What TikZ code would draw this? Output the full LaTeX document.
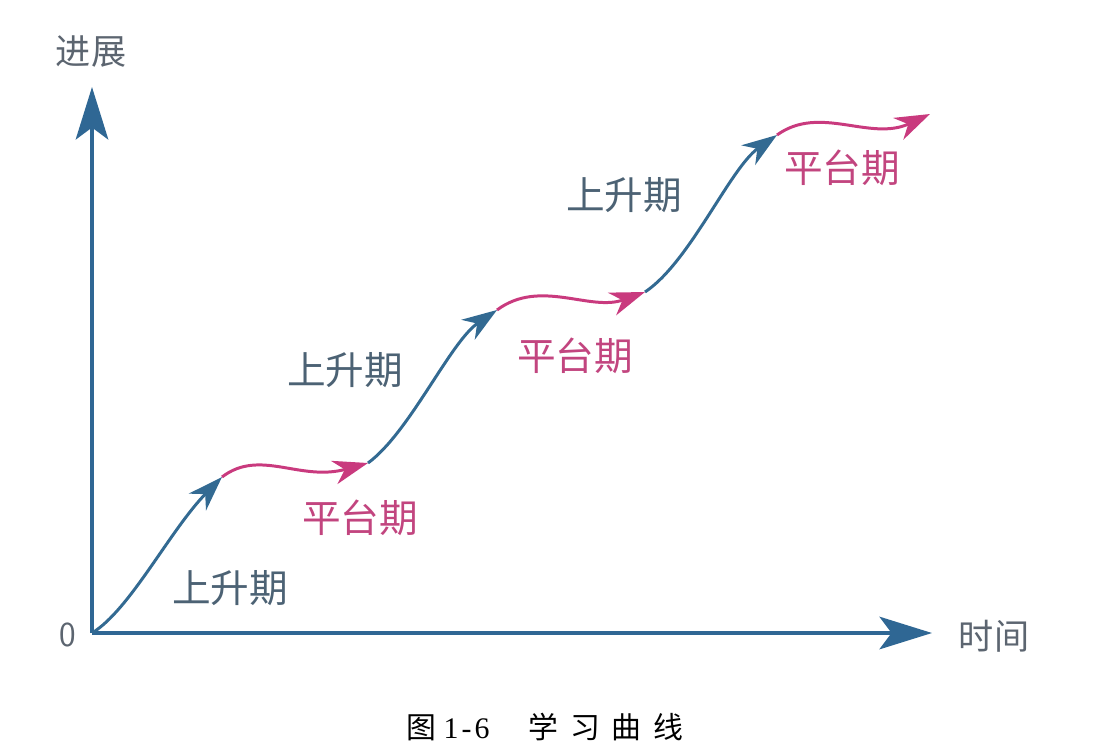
\documentclass[tikz,border=0pt]{standalone}
\usepackage{fontspec}
\newfontfamily\cjk{Noto Sans CJK SC}
\setmainfont{Liberation Serif}
\usetikzlibrary{arrows.meta}
\definecolor{axis600} {HTML}{2F6794}
\definecolor{rise600} {HTML}{336A92}
\definecolor{flat600} {HTML}{C93A7E}
\definecolor{rise700} {HTML}{4C6274}
\definecolor{flat700} {HTML}{C2457F}
\definecolor{grey600} {HTML}{5C6570}
\tikzset{
  axis/.style  ={draw=axis600, line width=2.3pt,
                 -{Stealth[length=10.5mm, width=6.5mm, inset=2.4mm]}},
  rise/.style  ={draw=rise600, line width=1.7pt,
                 -{Stealth[length=7mm, width=4.8mm, inset=2.2mm]}},
  flat/.style  ={draw=flat600, line width=1.7pt,
                 -{Stealth[length=7mm, width=4.8mm, inset=2.2mm]}},
  tagr/.style  ={font=\cjk\fontsize{22}{26}\selectfont, text=rise700,
                 inner sep=1pt},
  tagf/.style  ={font=\cjk\fontsize{22}{26}\selectfont, text=flat700,
                 inner sep=1pt},
  ax/.style    ={font=\cjk\fontsize{20}{24}\selectfont, text=grey600,
                 inner sep=1pt}
}
\begin{document}
\begin{tikzpicture}[x=0.02cm, y=-0.02cm]
\useasboundingbox (0,0) rectangle (1102,755);
% axes
\coordinate (o)  at (92,633);
\coordinate (yt) at (92,87);
\coordinate (xt) at (932,633);
\draw[axis] (o) -- (yt);
\draw[axis] (o) -- (xt);
\node[ax] (ylab) at (91,52)  {进展};
\node[ax, font=\sffamily\fontsize{20}{24}\selectfont] (zero) at (68,635) {0};
\node[ax] (xlab) at (994,636) {时间};
% junctions of the curve
\coordinate (p1) at (222,477);
\coordinate (p2) at (368,463);
\coordinate (p3) at (497,310);
\coordinate (p4) at (645,292);
\coordinate (p5) at (777,135);
\coordinate (p6) at (930,114);
% rising and flat stretches
\draw[rise] (o)  .. controls (130,610) and (170,530) .. (p1);
\draw[flat] (p1) .. controls (260,448) and (300,482) .. (p2);
\draw[rise] (p2) .. controls (410,432) and (450,342) .. (p3);
\draw[flat] (p3) .. controls (540,278) and (590,312) .. (p4);
\draw[rise] (p4) .. controls (690,262) and (730,168) .. (p5);
\draw[flat] (p5) .. controls (820,104) and (870,142) .. (p6);
% labels
\node[tagr] (r1) at (230,588) {上升期};
\node[tagf] (f1) at (360,518) {平台期};
\node[tagr] (r2) at (345,370) {上升期};
\node[tagf] (f2) at (575,356) {平台期};
\node[tagr] (r3) at (624,195) {上升期};
\node[tagf] (f3) at (842,168) {平台期};
% caption
\node[font=\fontsize{17}{21}\selectfont, inner sep=0pt] (cap) at (545,727)
  {{\cjk 图}\hspace{0.25em}1\hspace{0.1em}-\hspace{0.1em}6\hspace{1.3em}%
   {\cjk 学\hspace{0.4em}习\hspace{0.4em}曲\hspace{0.4em}线}};
\end{tikzpicture}
\end{document}
